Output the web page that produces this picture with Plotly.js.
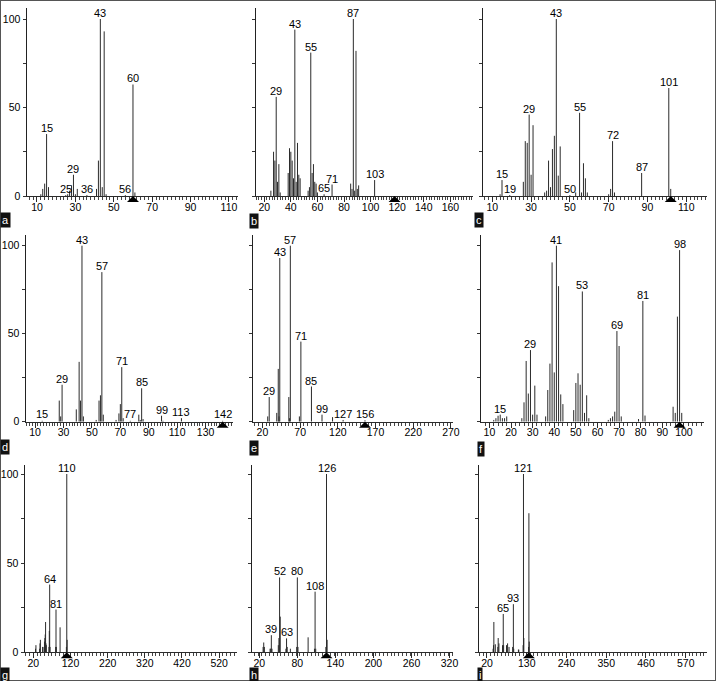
<!DOCTYPE html>
<html>
<head>
<meta charset="utf-8">
<script src="https://cdn.plot.ly/plotly-3.0.1.min.js"></script>
<style>
  html, body { margin: 0; padding: 0; background: #fff; }
  #plot { width: 716px; height: 681px; }
</style>
</head>
<body>
<div id="plot"></div>
<script>
// peak lists (m/z, relative intensity %)
const aMz = [12, 13, 14, 15, 16, 25, 26, 27, 28, 29, 30, 31, 36, 41, 42, 43, 44, 45, 46, 56, 60, 61];
const aInt = [1, 4, 7, 35, 5, 0.5, 1, 3, 6, 12, 1, 4, 0.5, 4, 20, 100, 5, 93, 1, 0.5, 63, 2];
const aLabels = [15, 25, 29, 36, 43, 56, 60];
const aIon = 60;

const bMz = [25, 27, 28, 29, 30, 31, 32, 38, 39, 40, 41, 42, 43, 44, 45, 46, 47, 53, 54, 55, 56, 57, 58, 59, 60, 65, 71, 85, 86, 87, 88, 89, 90, 91, 103];
const bInt = [3, 25, 20, 56, 8, 18, 2, 13, 27, 25, 20, 10, 94, 8, 30, 12, 10, 3, 5, 81, 13, 18, 8, 7, 2, 1, 6.5, 7, 4, 100, 3, 82, 4, 6, 9];
const bLabels = [29, 43, 55, 65, 71, 87, 103];
const bIon = 118;

const cMz = [14, 15, 19, 26, 27, 28, 29, 30, 31, 37, 38, 39, 40, 41, 42, 43, 44, 45, 50, 53, 55, 56, 57, 58, 59, 70, 71, 72, 73, 87, 101, 102];
const cInt = [1, 9, 0.5, 8, 31, 30, 46, 12, 40, 2, 3, 20, 5, 26.5, 34, 100, 11.5, 28, 0.5, 2, 47, 2, 18.5, 10, 2, 1, 4, 31, 2, 13, 61, 4];
const cLabels = [15, 19, 29, 43, 50, 55, 72, 87, 101];
const cIon = 102;

const dMz = [15, 27, 28, 29, 39, 41, 42, 43, 44, 53, 55, 56, 57, 58, 67, 69, 70, 71, 72, 77, 83, 84, 85, 86, 99, 100, 113, 142];
const dInt = [0.5, 12, 3, 21, 7, 34, 12, 100, 3, 1, 12, 15, 85, 4, 1, 4.7, 10, 31, 2, 0.5, 4, 1, 19, 1.5, 3.4, 0.5, 2, 0.5];
const dLabels = [15, 29, 43, 57, 71, 77, 85, 99, 113, 142];
const dIon = 142;

const eMz = [27, 29, 39, 41, 42, 43, 55, 56, 57, 69, 71, 85, 99, 113, 127, 156];
const eInt = [3, 14, 5, 30, 3, 93, 14, 2, 100, 3, 45.5, 20, 4, 2.6, 1, 0.8];
const eLabels = [29, 43, 57, 71, 85, 99, 127, 156];
const eIon = 156;

const fMz = [12, 13, 14, 15, 16, 17, 18, 25, 26, 27, 28, 29, 30, 31, 32, 36, 37, 38, 39, 40, 41, 42, 43, 44, 49, 50, 51, 52, 53, 54, 55, 56, 65, 66, 67, 68, 69, 70, 71, 79, 81, 82, 95, 96, 97, 98, 99];
const fInt = [1, 2, 3.4, 4, 2, 2, 3, 2, 11, 34.5, 16, 40.7, 4, 20.5, 4, 3, 18, 33, 90.5, 28, 100, 77, 15.5, 10, 6.6, 22, 27.5, 21, 74, 5, 15, 2, 1, 2, 3, 5.7, 51.5, 43, 3, 1.5, 68.6, 3.5, 8.5, 5, 59.7, 97.5, 5];
const fLabels = [15, 29, 41, 53, 69, 81, 98];
const fIon = 98;

const gMz = [26, 27, 37, 38, 39, 45, 46, 50, 51, 52, 53, 54, 55, 62, 63, 64, 65, 80, 81, 82, 92, 109, 110, 111];
const gInt = [2, 4, 2, 5, 7, 3, 3, 6, 8, 10, 17, 5, 4, 3, 12, 38, 3, 3, 24, 3, 14, 3, 100, 7];
const gLabels = [64, 81, 110];
const gIon = 110;

const hMz = [26, 27, 28, 37, 38, 39, 40, 50, 51, 52, 53, 62, 63, 64, 69, 79, 80, 81, 97, 107, 108, 109, 125, 126, 127];
const hInt = [3, 5.5, 3, 2, 2, 9.6, 2, 4, 8, 42, 20, 2, 7.8, 3, 2, 3, 42, 3, 8.4, 2, 34, 2, 3, 100, 7];
const hLabels = [39, 52, 63, 80, 108, 126];
const hIon = 126;

const iMz = [37, 38, 39, 43, 50, 51, 53, 63, 65, 66, 74, 77, 81, 91, 93, 94, 107, 108, 120, 121, 122, 135, 136, 137];
const iInt = [2, 4, 17, 4.5, 3, 8, 5, 4, 21.5, 4, 4, 5, 3, 3, 27, 2, 1.5, 1.5, 4, 100, 8, 3, 78, 6];
const iLabels = [65, 93, 121];
const iIon = 136;

const W = 716, H = 681;
const FONT = "Liberation Sans, Arial, sans-serif";

// pixel rows: x-axis baseline, top of y axis line, px per 1%
const rows = [
    { base: 196, top: 8, unit: 1.77 },
    { base: 421.7, top: 235, unit: 1.76 },
    { base: 652.3, top: 465, unit: 1.783 }
];

const panels = [
    { tag: "a", mz: aMz, inten: aInt, labels: aLabels, ion: aIon, row: 0, left: 27, right: 238, range: [4.8, 114.7], tick0: 10, dtick: 20, minor: 2, yText: true, tagPos: [5, 220] },
    { tag: "b", mz: bMz, inten: bInt, labels: bLabels, ion: bIon, row: 0, left: 256, right: 473, range: [13.8, 177], tick0: 20, dtick: 20, minor: 2, yText: false, tagPos: [254, 221] },
    { tag: "c", mz: cMz, inten: cInt, labels: cLabels, ion: cIon, row: 0, left: 483, right: 707, range: [5.2, 120.7], tick0: 10, dtick: 20, minor: 2, yText: false, tagPos: [479, 220] },
    { tag: "d", mz: dMz, inten: dInt, labels: dLabels, ion: dIon, row: 1, left: 26, right: 233, range: [3.6, 149.3], tick0: 10, dtick: 20, minor: 2, yText: true, tagPos: [5, 447] },
    { tag: "e", mz: eMz, inten: eInt, labels: eLabels, ion: eIon, row: 1, left: 253, right: 453, range: [7.5, 272.7], tick0: 20, dtick: 50, minor: 5, yText: false, tagPos: [254, 448] },
    { tag: "f", mz: fMz, inten: fInt, labels: fLabels, ion: fIon, row: 1, left: 481, right: 704, range: [6.1, 109.3], tick0: 10, dtick: 10, minor: 2, yText: false, tagPos: [481, 449] },
    { tag: "g", mz: gMz, inten: gInt, labels: gLabels, ion: gIon, row: 2, left: 25, right: 237, range: [-2.4, 568], tick0: 20, dtick: 100, minor: 10, yText: true, tagPos: [5, 675] },
    { tag: "h", mz: hMz, inten: hInt, labels: hLabels, ion: hIon, row: 2, left: 252, right: 453, range: [8.5, 325.5], tick0: 20, dtick: 60, minor: 6, yText: false, tagPos: [254, 675] },
    { tag: "i", mz: iMz, inten: iInt, labels: iLabels, ion: iIon, row: 2, left: 479, right: 707, range: [-2.1, 628.9], tick0: 20, dtick: 110, minor: 10, yText: false, tagPos: [480, 675] }
];

const traces = [];
const layout = {
    width: W,
    height: H,
    margin: { l: 0, r: 0, t: 0, b: 0 },
    paper_bgcolor: "#fff",
    plot_bgcolor: "rgba(0,0,0,0)",
    font: { family: FONT, color: "#000", size: 11 },
    showlegend: false,
    annotations: [],
    shapes: [{
        type: "rect", xref: "paper", yref: "paper", x0: 0, x1: 1, y0: 0, y1: 1,
        line: { color: "#555", width: 2 }
    }]
};

panels.forEach((p, idx) => {
    const k = idx + 1;
    const xa = k === 1 ? "x" : "x" + k;
    const ya = k === 1 ? "y" : "y" + k;
    const row = rows[p.row];

    // stick spectrum
    const xs = [], ys = [];
    p.mz.forEach((m, i) => {
        xs.push(m, m, null);
        ys.push(0, p.inten[i], null);
    });
    traces.push({
        type: "scatter", mode: "lines", x: xs, y: ys, xaxis: xa, yaxis: ya,
        line: { color: "#2b2b2b", width: 1 }, hoverinfo: "skip"
    });

    // molecular ion marker just under the axis
    layout.shapes.push({
        type: "path", xref: xa, yref: "paper",
        xsizemode: "pixel", ysizemode: "pixel",
        xanchor: p.ion, yanchor: 1 - row.base / H,
        path: "M-6,-6 L6,-6 L0,0 Z",
        fillcolor: "#000", line: { width: 0 }
    });

    layout["xaxis" + (k === 1 ? "" : k)] = {
        domain: [p.left / W, p.right / W],
        range: p.range,
        anchor: ya,
        showgrid: false, zeroline: false,
        showline: true, linecolor: "#2b2b2b", linewidth: 1,
        ticks: "outside", ticklen: 5, tickcolor: "#2b2b2b", tickwidth: 1,
        tick0: p.tick0, dtick: p.dtick,
        ticklabelstandoff: -4,
        minor: { dtick: p.minor, ticks: "outside", ticklen: 3, tickcolor: "#444", tickwidth: 1 },
        tickfont: { family: FONT, size: 10.5, color: "#000" },
        fixedrange: true
    };
    layout["yaxis" + (k === 1 ? "" : k)] = {
        domain: [1 - row.base / H, 1 - row.top / H],
        range: [0, (row.base - row.top) / row.unit],
        anchor: xa,
        showgrid: false, zeroline: false,
        showline: true, linecolor: "#222", linewidth: 1.5,
        ticks: "outside", ticklen: 3, tickcolor: "#333",
        tickvals: [0, 25, 50, 75, 100],
        ticktext: ["0", "", "50", "", "100"],
        showticklabels: p.yText,
        tickfont: { family: FONT, size: 10.5, color: "#000" },
        fixedrange: true
    };

    // peak labels
    p.labels.forEach(m => {
        const i = p.mz.indexOf(m);
        const h = i >= 0 ? p.inten[i] : 0;
        layout.annotations.push({
            xref: xa, yref: ya, x: m, y: Math.max(h, 0.8),
            text: String(m), showarrow: false, yanchor: "bottom", yshift: -2,
            font: { family: FONT, size: 11, color: "#000" }
        });
    });

    // panel letter
    layout.annotations.push({
        xref: "paper", yref: "paper", x: p.tagPos[0] / W, y: 1 - p.tagPos[1] / H,
        text: p.tag, showarrow: false, xanchor: "center", yanchor: "middle",
        bgcolor: "#111", borderpad: 1,
        font: { family: FONT, size: 11, color: "#fff" }
    });
});

Plotly.newPlot("plot", traces, layout, { staticPlot: true, displayModeBar: false });
</script>
</body>
</html>
